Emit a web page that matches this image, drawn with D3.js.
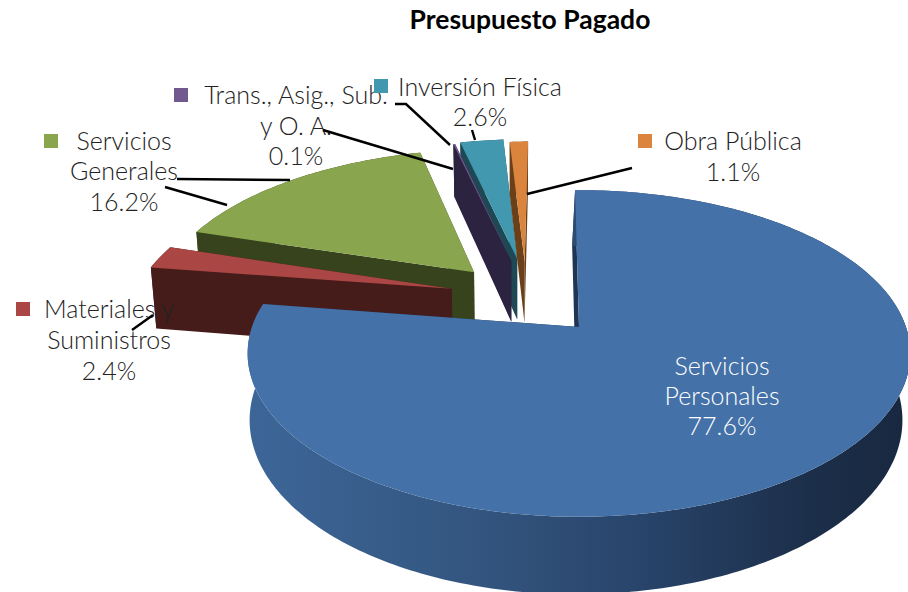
<!DOCTYPE html>
<html><head><meta charset="utf-8">
<script src="https://cdn.jsdelivr.net/npm/d3@7"></script>
<style>html,body{margin:0;padding:0;background:#fff}svg{display:block}text{font-family:Lato,"Open Sans",sans-serif}</style>
</head><body><svg id="c" width="908" height="592"></svg>
<script>
const categories=["Servicios Personales","Materiales y Suministros","Servicios Generales","Trans., Asig., Sub. y O. A.","Inversión Física","Obra Pública"];
const values=[77.6,2.4,16.2,0.1,2.6,1.1];
const percentLabels=["77.6%","2.4%","16.2%","0.1%","2.6%","1.1%"];
const labelLines=[["Servicios","Personales"],["Materiales y","Suministros"],["Servicios","Generales"],["Trans., Asig., Sub.","y O. A."],["Inversión Física"],["Obra Pública"]];
const title="Presupuesto Pagado";
const topColors=["#4471A7","#AA4643","#89A54E","#71588F","#4198AF","#DB843D"];
const wallColors=["#1f3554","#451C1A","#36431C","#2C2341","#1F4855","#6B4018"];

// layout of the exploded perspective pie
const explode=[[0,0],[-.405,.25],[-.34,.365],[-.222,.445],[-.203,.46],[-.178,.438]];
const lowShift=[-3,-1,-1,-1,-1,-1];
const drawOrder=[2,1,4,3,5,0];
const cx=579,cy=327,Rx=327,Ry=159,K=.162,depth=65;
const labelPos=[
 {x:722,y:[375,405,435],key:[640,358]},
 {x:109,y:[318,349,380],key:[16,302]},
 {x:124,y:[150,180,211],key:[44,134]},
 {x:296,y:[104,135,165],key:[174,88]},
 {x:480,y:[96,126],key:[374,79]},
 {x:733,y:[150,181],key:[638,134]}];
const leaders=[
 [[132,330],[153,315]],
 [[177,179],[290,180]],
 [[165,187],[227,205]],
 [[323,130],[453,169]],
 [[395,104],[406,104],[450,145]],
 [[472,130],[475,140]],
 [[527,194],[632,168]]];

const svg=d3.select("#c");
const sx=d3.scaleLinear().domain([-1,1]).range([cx-Rx,cx+Rx]);
const sy=d3.scaleLinear().domain([-1,1]).range([cy+Ry,cy-Ry]);
const project=(u,v,shift)=>{
  const w=1+K*v;
  let X=sx(u/w),Y=sy(v/w);
  if(shift!==undefined){X=X+shift-.015*(X-581);Y=Y+depth/w;}
  return [X,Y];
};
const defs=svg.append("defs");
const g=defs.append("linearGradient").attr("id","bw").attr("gradientUnits","userSpaceOnUse")
 .attr("x1",248).attr("x2",905).attr("y1",0).attr("y2",0);
[[0,"#3d6698"],[.35,"#33557f"],[.6,"#28446a"],[.85,"#1c2f4a"],[1,"#182840"]].forEach(s=>g.append("stop").attr("offset",s[0]).attr("stop-color",s[1]));

const start=-.8*Math.PI/180;
const pie=d3.pie().sort(null).value(d=>d).startAngle(start).endAngle(start+2*Math.PI);
const arcs=pie(values);
const line=d3.line();

drawOrder.forEach(i=>{
  const a=arcs[i],[du,dv]=explode[i];
  const n=Math.max(2,Math.ceil((a.endAngle-a.startAngle)*60));
  const rim=d3.range(n+1).map(j=>{
    const t=a.startAngle+(a.endAngle-a.startAngle)*j/n;
    return [Math.sin(t)+du,Math.cos(t)+dv];
  });
  const top=rim.map(p=>project(p[0],p[1]));
  const low=rim.map(p=>project(p[0],p[1],lowShift[i]));
  const apexT=project(du,dv),apexL=project(du,dv,lowShift[i]);
  const G=svg.append("g");
  const wall=i===0?"url(#bw)":wallColors[i];
  // cut walls
  G.append("path").attr("d",line([apexT,top[0],low[0],apexL])+"Z").attr("fill",wallColors[i]);
  G.append("path").attr("d",line([apexT,top[n],low[n],apexL])+"Z").attr("fill",wallColors[i]);
  // outer wall
  G.append("path").attr("d",line(top.concat(low.slice().reverse()))+"Z").attr("fill",wall);
  // top face
  G.append("path").attr("d",line([apexT].concat(top))+"Z").attr("fill",topColors[i]);
});

// text
svg.append("text").attr("x",530).attr("y",29).attr("text-anchor","middle")
  .attr("font-size",26.5).attr("font-weight",700).attr("fill","#000").text(title);

categories.forEach((c,i)=>{
  const p=labelPos[i];
  svg.append("rect").attr("x",p.key[0]).attr("y",p.key[1]).attr("width",14).attr("height",14).attr("fill",topColors[i]);
  const lines=labelLines[i].concat([percentLabels[i]]);
  lines.forEach((t,j)=>{
    svg.append("text").attr("x",p.x).attr("y",p.y[j]).attr("text-anchor","middle")
      .attr("font-size",25).attr("font-weight",300).attr("fill",i===0?"#fff":"#222").text(t);
  });
});
leaders.forEach(l=>svg.append("path").attr("d",line(l)).attr("fill","none").attr("stroke","#000").attr("stroke-width",2.4));
</script></body></html>
